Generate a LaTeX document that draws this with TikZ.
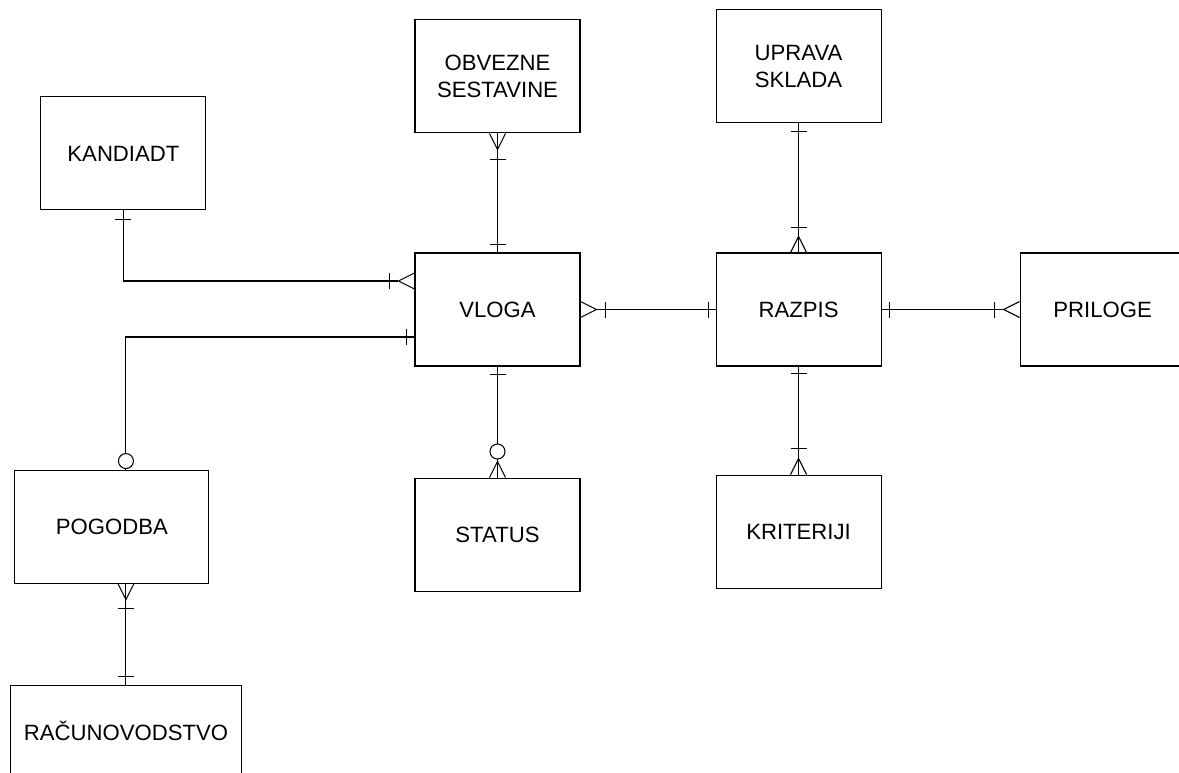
\documentclass[tikz,border=0pt]{standalone}
\usepackage{fontspec}
\setmainfont{Liberation Sans}
\usetikzlibrary{positioning, calc, decorations.markings}
\tikzset{
  entity/.style={
    rectangle,
    draw,
    align=center,
    minimum width=3.3cm,
    minimum height=2.26cm,
    inner sep=6pt,
    line width=0.6pt,
    font=\fontsize{12.6}{15.4}\selectfont
  },
  rel/.style={line width=0.6pt},
  tick/.style={line width=0.6pt, shorten >=0pt, shorten <=0pt},
  bar at/.style={postaction={decorate, decoration={markings,
    mark=at position #1 with {\draw[tick] (0,-0.16cm) -- (0,0.16cm);}}}},
  ring at/.style={postaction={decorate, decoration={markings,
    mark=at position #1 with {\draw[tick, fill=white] (0,0) circle (0.15cm);}}}},
  crow start/.style={postaction={decorate, decoration={markings,
    mark=at position 0.32cm with {\draw[tick] (-0.32cm,0.16cm) -- (0,0) -- (-0.32cm,-0.16cm);}}}},
  crow end/.style={postaction={decorate, decoration={markings,
    mark=at position -0.32cm with {\draw[tick] (0.32cm,0.16cm) -- (0,0) -- (0.32cm,-0.16cm);}}}}
}
\begin{document}
\begin{tikzpicture}
  \useasboundingbox (0,0) rectangle (23.58,-15.44);
  \clip (0,0) rectangle (23.58,-15.44);

  \node[entity] (vloga) at (9.95,-6.19) {VLOGA};
  \node[entity, right=2.7cm of vloga] (razpis) {RAZPIS};
  \node[entity, right=2.76cm of razpis] (priloge) {PRILOGE};
  \node[entity, above=2.38cm of vloga] (obvezne) {OBVEZNE\\SESTAVINE};
  \node[entity, above=2.58cm of razpis] (uprava) {UPRAVA\\SKLADA};
  \node[entity, below=2.22cm of vloga] (status) {STATUS};
  \node[entity, below=2.16cm of razpis] (kriteriji) {KRITERIJI};
  \node[entity, above left=0.84cm and 4.16cm of vloga] (kandidat) {KANDIADT};
  \node[entity, below left=2.06cm and 4.1cm of vloga, minimum width=3.88cm] (pogodba) {POGODBA};
  \node[entity, below=2.02cm of pogodba, xshift=0.28cm, minimum width=4.62cm,
        minimum height=1.84cm] (racun) {RAČUNOVODSTVO};

  \draw[rel, bar at=0.18cm, crow end, bar at=-0.5cm, shorten >=0.32cm]
    (kandidat.south) |- ($(vloga.west)+(0,0.57cm)$);
  \draw[rel, bar at=0.16cm, ring at=-0.17cm]
    ($(vloga.west)+(0,-0.55cm)$) -| ($(pogodba.north)+(0.28cm,0)$);
  \draw[rel, crow start, bar at=0.5cm, bar at=-0.16cm]
    ($(pogodba.south)+(0.28cm,0)$) -- (racun.north);
  \draw[rel, crow start, bar at=0.52cm, bar at=-0.16cm] (obvezne) -- (vloga);
  \draw[rel, bar at=0.16cm, crow end, ring at=-0.52cm] (vloga) -- (status);
  \draw[rel, crow start, bar at=0.5cm, bar at=-0.14cm, shorten <=0.32cm] (vloga) -- (razpis);
  \draw[rel, bar at=0.16cm, crow end, bar at=-0.5cm] (uprava) -- (razpis);
  \draw[rel, bar at=0.14cm, crow end, bar at=-0.52cm] (razpis) -- (kriteriji);
  \draw[rel, bar at=0.16cm, crow end, bar at=-0.5cm, shorten >=0.32cm] (razpis) -- (priloge);
\end{tikzpicture}
\end{document}
